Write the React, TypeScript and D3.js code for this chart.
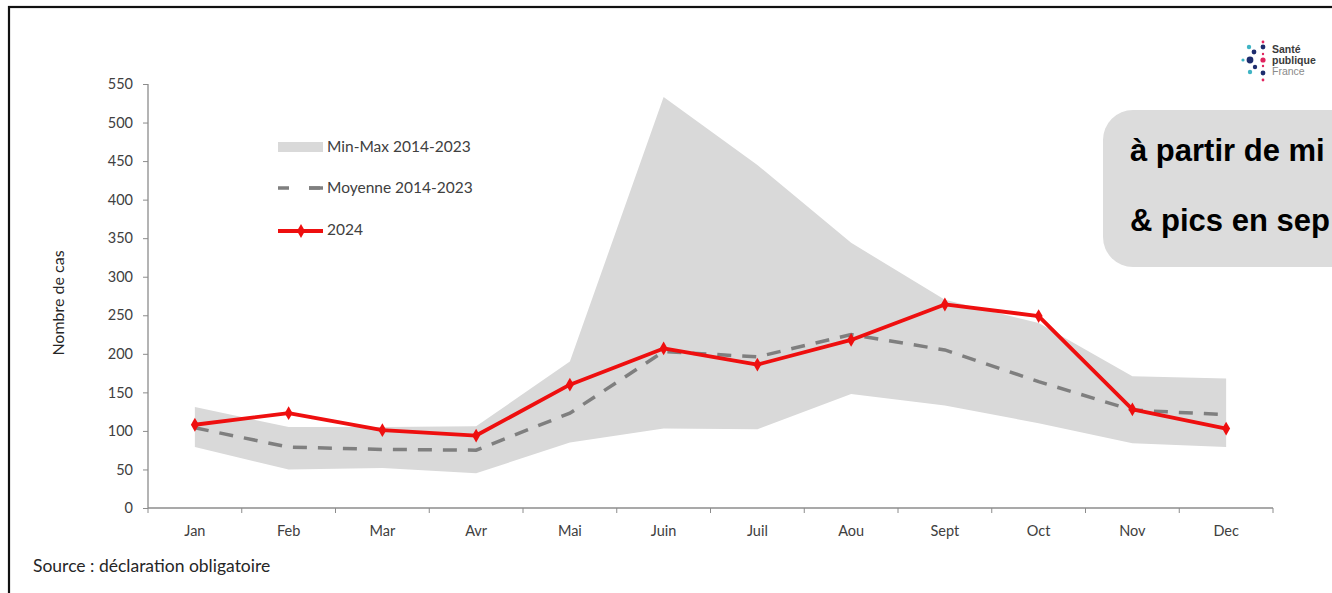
import React, { useEffect, useRef } from 'react';
import * as d3 from 'd3';

const months = ['Jan', 'Feb', 'Mar', 'Avr', 'Mai', 'Juin', 'Juil', 'Aou', 'Sept', 'Oct', 'Nov', 'Dec'];
const minValues = [79, 50, 52, 45, 85, 103, 102, 148, 133, 110, 84, 79];
const maxValues = [131, 105, 105, 106, 190, 533, 445, 344, 270, 240, 171, 168];
const meanValues = [104, 79, 76, 75, 123, 203, 196, 225, 205, 164, 127, 121];
const values2024 = [108, 123, 101, 94, 160, 207, 186, 218, 264, 249, 128, 103];
const yTicks = [0, 50, 100, 150, 200, 250, 300, 350, 400, 450, 500, 550];

const FONT = 'Lato, "Open Sans", sans-serif';

const App = () => {
  const svgRef = useRef<SVGSVGElement>(null);

  useEffect(() => {
    const svg = d3.select(svgRef.current);
    svg.selectAll('*').remove();

    const W = 1332;
    const H = 593;
    svg.attr('width', W).attr('height', H);

    svg.append('rect').attr('width', W).attr('height', H).attr('fill', 'white');

    // frame
    svg.append('rect')
      .attr('x', 9).attr('y', 7)
      .attr('width', W + 20).attr('height', H + 20)
      .attr('fill', 'none').attr('stroke', '#111').attr('stroke-width', 2.2);

    const x = d3.scaleBand().domain(months).range([148, 1273]);
    const y = d3.scaleLinear().domain([0, 550]).range([508, 84]);
    const cx = (m: string) => (x(m) as number) + x.bandwidth() / 2;

    // min-max band
    const area = d3.area<number>()
      .x((_, i) => cx(months[i]))
      .y0((_, i) => y(minValues[i]))
      .y1((_, i) => y(maxValues[i]));
    svg.append('path')
      .datum(months.map((_, i) => i))
      .attr('d', area)
      .attr('fill', '#d9d9d9');

    // axes
    const yAxis = svg.append('g')
      .attr('transform', 'translate(148,0)')
      .call(d3.axisLeft(y).tickValues(yTicks).tickSize(5).tickPadding(10));
    const xAxis = svg.append('g')
      .attr('transform', 'translate(0,508)')
      .call(d3.axisBottom(x).tickSize(0).tickPadding(18));

    // x ticks at band boundaries
    xAxis.selectAll('.tickmark')
      .data(d3.range(months.length + 1))
      .enter()
      .append('line')
      .attr('x1', i => 148 + i * x.step())
      .attr('x2', i => 148 + i * x.step())
      .attr('y1', 0).attr('y2', 5)
      .attr('stroke', '#8c8c8c');

    [yAxis, xAxis].forEach(g => {
      g.selectAll('.domain').attr('stroke', '#8c8c8c').attr('stroke-width', 1.3);
      g.selectAll('.tick line').attr('stroke', '#8c8c8c');
      g.selectAll('text')
        .attr('fill', '#404040')
        .style('font-family', FONT)
        .style('font-size', '14.5px');
    });
    yAxis.select('.domain').attr('d', 'M0,508V84');
    xAxis.select('.domain').attr('d', 'M148,0H1273');

    // mean line
    const line = d3.line<number>()
      .x((_, i) => cx(months[i]));
    svg.append('path')
      .attr('d', line.y(v => y(v))(meanValues))
      .attr('fill', 'none')
      .attr('stroke', '#7f7f7f')
      .attr('stroke-width', 3.5)
      .attr('stroke-dasharray', '14,11');

    // 2024 line
    svg.append('path')
      .attr('d', line.y(v => y(v))(values2024))
      .attr('fill', 'none')
      .attr('stroke', '#ee0f0f')
      .attr('stroke-width', 3.8)
      .attr('stroke-linejoin', 'round');

    const diamond = d3.symbol().type(d3.symbolDiamond).size(55);
    svg.selectAll('.pt')
      .data(values2024)
      .enter()
      .append('path')
      .attr('d', diamond)
      .attr('transform', (v, i) => `translate(${cx(months[i])},${y(v)})`)
      .attr('fill', '#ee0f0f');

    // legend
    const lg = svg.append('g').style('font-family', FONT).style('font-size', '15.5px');
    lg.append('rect').attr('x', 278).attr('y', 142).attr('width', 45).attr('height', 10).attr('fill', '#d9d9d9');
    lg.append('text').attr('x', 327).attr('y', 147).attr('dy', '0.35em').attr('fill', '#404040').text('Min-Max 2014-2023');
    lg.append('line').attr('x1', 278).attr('x2', 323).attr('y1', 188).attr('y2', 188)
      .attr('stroke', '#7f7f7f').attr('stroke-width', 3.5).attr('stroke-dasharray', '11,20');
    lg.append('line').attr('x1', 309).attr('x2', 323).attr('y1', 188).attr('y2', 188)
      .attr('stroke', '#7f7f7f').attr('stroke-width', 3.5);
    lg.append('text').attr('x', 327).attr('y', 188).attr('dy', '0.35em').attr('fill', '#404040').text('Moyenne 2014-2023');
    lg.append('line').attr('x1', 278).attr('x2', 323).attr('y1', 231).attr('y2', 231)
      .attr('stroke', '#ee0f0f').attr('stroke-width', 3.8);
    lg.append('path').attr('d', diamond).attr('transform', 'translate(301,231)').attr('fill', '#ee0f0f');
    lg.append('text').attr('x', 327).attr('y', 230).attr('dy', '0.35em').attr('fill', '#404040').text('2024');

    // y label
    svg.append('text')
      .attr('transform', 'translate(58,303) rotate(-90)')
      .attr('text-anchor', 'middle')
      .attr('dy', '0.35em')
      .attr('fill', '#262626')
      .style('font-family', FONT)
      .style('font-size', '16px')
      .text('Nombre de cas');

    // source
    svg.append('text')
      .attr('x', 33).attr('y', 572)
      .attr('fill', '#262626')
      .style('font-family', FONT)
      .style('font-size', '17.5px')
      .text('Source : déclaration obligatoire');

    // callout box (cut off at the right edge, as in the source image)
    svg.append('rect')
      .attr('x', 1103).attr('y', 110)
      .attr('width', 300).attr('height', 157)
      .attr('rx', 30)
      .attr('fill', '#dcdcdc');
    const callout = svg.append('g')
      .style('font-family', '"Liberation Sans", Arial, sans-serif')
      .style('font-weight', 'bold')
      .style('font-size', '31px')
      .attr('fill', '#000');
    callout.append('text').attr('x', 1130).attr('y', 161).text('à partir de mi');
    callout.append('text').attr('x', 1130).attr('y', 231).text('& pics en sep');

    // logo
    const logoDots = [
      { x: 1249, y: 47, r: 2.2, c: '#3fb4c4' },
      { x: 1254, y: 52, r: 2.4, c: '#1e2d6e' },
      { x: 1263, y: 42, r: 1.4, c: '#e0245e' },
      { x: 1263, y: 47, r: 2.4, c: '#1e2d6e' },
      { x: 1243, y: 60, r: 1.6, c: '#3fb4c4' },
      { x: 1250, y: 60, r: 3.4, c: '#1e2d6e' },
      { x: 1263, y: 60, r: 2.6, c: '#e0245e' },
      { x: 1255, y: 67, r: 2.2, c: '#1e2d6e' },
      { x: 1250, y: 72, r: 2.2, c: '#3fb4c4' },
      { x: 1263, y: 73, r: 2.4, c: '#1e2d6e' },
      { x: 1263, y: 80, r: 1.4, c: '#e0245e' },
      { x: 1263, y: 54, r: 1.2, c: '#e0245e' },
      { x: 1263, y: 66, r: 1.2, c: '#e0245e' },
    ];
    svg.selectAll('.logo')
      .data(logoDots)
      .enter()
      .append('circle')
      .attr('cx', d => d.x).attr('cy', d => d.y).attr('r', d => d.r).attr('fill', d => d.c);
    const logoText = svg.append('g').style('font-family', '"Liberation Sans", Arial, sans-serif').style('font-size', '10.5px');
    logoText.append('text').attr('x', 1272).attr('y', 53).attr('fill', '#3a3a3a').style('font-weight', 'bold').text('Santé');
    logoText.append('text').attr('x', 1272).attr('y', 64).attr('fill', '#3a3a3a').style('font-weight', 'bold').text('publique');
    logoText.append('text').attr('x', 1272).attr('y', 75).attr('fill', '#8a8a8a').text('France');
  }, []);

  return (
    <div style={{ position: 'absolute', left: 0, top: 0 }}>
      <svg ref={svgRef} style={{ display: 'block' }}></svg>
    </div>
  );
};

export default App;
